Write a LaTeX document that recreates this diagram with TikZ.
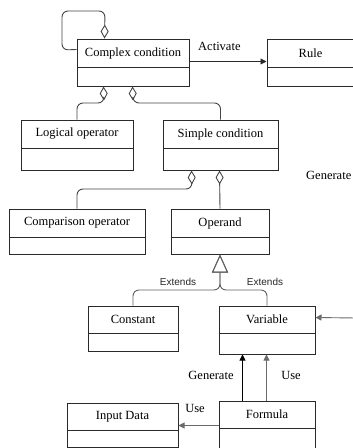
\documentclass[tikz,border=0pt]{standalone}
\usepackage{fontspec}
\setmainfont{Liberation Serif}
\newfontfamily\sansf{Liberation Sans}
\usetikzlibrary{arrows.meta,calc}
\definecolor{boxc}{HTML}{2A2A2A}
\definecolor{aggc}{HTML}{444444}
\definecolor{genc}{HTML}{5F5F5F}
\definecolor{greyc}{HTML}{6A6A6A}
\tikzset{
  clsbox/.style={draw=boxc, line width=1pt, rectangle, inner sep=0pt},
  clsline/.style={draw=boxc, line width=1pt},
  clstext/.style={font=\fontsize{12.5}{14}\selectfont, inner sep=0pt},
  lbl/.style={font=\fontsize{12.5}{14}\selectfont, inner sep=0pt},
  extlbl/.style={font=\sansf\fontsize{10}{12}\selectfont, text=black!85, inner sep=0pt},
  agg/.style={draw=aggc, line width=0.9pt, rounded corners=6pt},
  aggtip/.style={{Diamond[open,length=14pt,width=8pt,line width=0.9pt]}-},
  aggend/.style={-{Diamond[open,length=14pt,width=8pt,line width=0.9pt]}},
  gen/.style={draw=genc, line width=0.9pt, rounded corners=6pt, -{Triangle[open,length=18pt,width=16pt,line width=0.9pt]}},
  dep/.style={line width=0.9pt, -{Triangle[length=6pt,width=6pt]}},
}
\newcommand\umlcls[7]{%
  \node[clsbox, minimum width={#4-#2}, minimum height={#5-#3}] (#1) at ({(#2+#4)/2},{(#3+#5)/2}) {};
  \draw[clsline] (#2,#6) -- (#4,#6);
  \node[clstext] (#1-t) at ({(#2+#4)/2},{(#3+#6)/2}) {#7};
}
\begin{document}
\begin{tikzpicture}[x=1pt,y=-1pt]
\useasboundingbox (0,0) rectangle (353,448);
\umlcls{cc}{77}{39}{189}{86}{67}{Complex condition}
\umlcls{rule}{267}{39}{354}{86}{67}{Rule}
\umlcls{lo}{21}{120}{133}{170}{148}{Logical operator}
\umlcls{sc}{163}{120}{278}{170}{148}{Simple condition}
\umlcls{co}{9}{209}{145}{254}{237}{Comparison operator}
\umlcls{op}{171}{209}{269}{254}{237}{Operand}
\umlcls{con}{88}{306}{178}{351}{333}{Constant}
\umlcls{var}{219}{306}{315}{354}{333}{Variable}
\umlcls{fo}{219}{401}{315}{460}{428}{Formula}
\umlcls{in}{67}{403}{178}{447}{430}{Input Data}

% self aggregation
\draw[agg, aggend] ($(cc.north west)+(0,11)$) -- (62,50) -- (62,11) -- (105,11) -- ($(cc.north west)+(28,0)$);
% aggregations from Complex condition
\draw[agg, aggtip] ($(cc.south west)+(27,0)$) -- (104,103) -- (77,103) -- (lo.north);
\draw[agg, aggtip] ($(cc.south west)+(56,0)$) -- (133,103) -- (220.5,103) -- (sc.north);
% aggregations from Simple condition
\draw[agg, aggtip] ($(sc.south west)+(29,0)$) -- (192,189) -- (77,189) -- (co.north);
\draw[agg, aggtip] ($(sc.south west)+(57,0)$) -- (op.north);

% Activate
\draw[dep, draw=boxc] ($(cc.north east)+(0,23)$) -- ($(rule.north west)+(0,23)$);
\node[lbl, anchor=west] (actl) at (198,46) {Activate};

% Generalization
\draw[gen] (con.north) -- (133,290) -- (220,290) -- (op.south);
\draw[gen] (var.north) -- (267,290) -- (220,290) -- (op.south);
\node[extlbl] (ext1) at (178,282) {Extends};
\node[extlbl] (ext2) at (265,282) {Extends};

% right incoming arrow to Variable
\coordinate (rin) at (356,318);
\draw[dep, draw=greyc] (rin) -- ($(var.north east)+(0,12)$);
\node[lbl, anchor=west] (genr) at (306,175) {Generate};

% Formula -> Variable
\draw[dep, draw=black] ($(fo.north west)+(24,0)$) -- ($(var.south west)+(24,0)$);
\draw[dep, draw=greyc] ($(fo.north west)+(48,0)$) -- ($(var.south west)+(48,0)$);
\node[lbl] (genl) at (211,375) {Generate};
\node[lbl] (usel) at (291,375) {Use};

% Formula -> Input Data
\draw[dep, draw=greyc] ($(fo.north west)+(0,25)$) -- ($(in.north east)+(0,23)$);
\node[lbl] (use2) at (195,408) {Use};
\end{tikzpicture}
\end{document}
